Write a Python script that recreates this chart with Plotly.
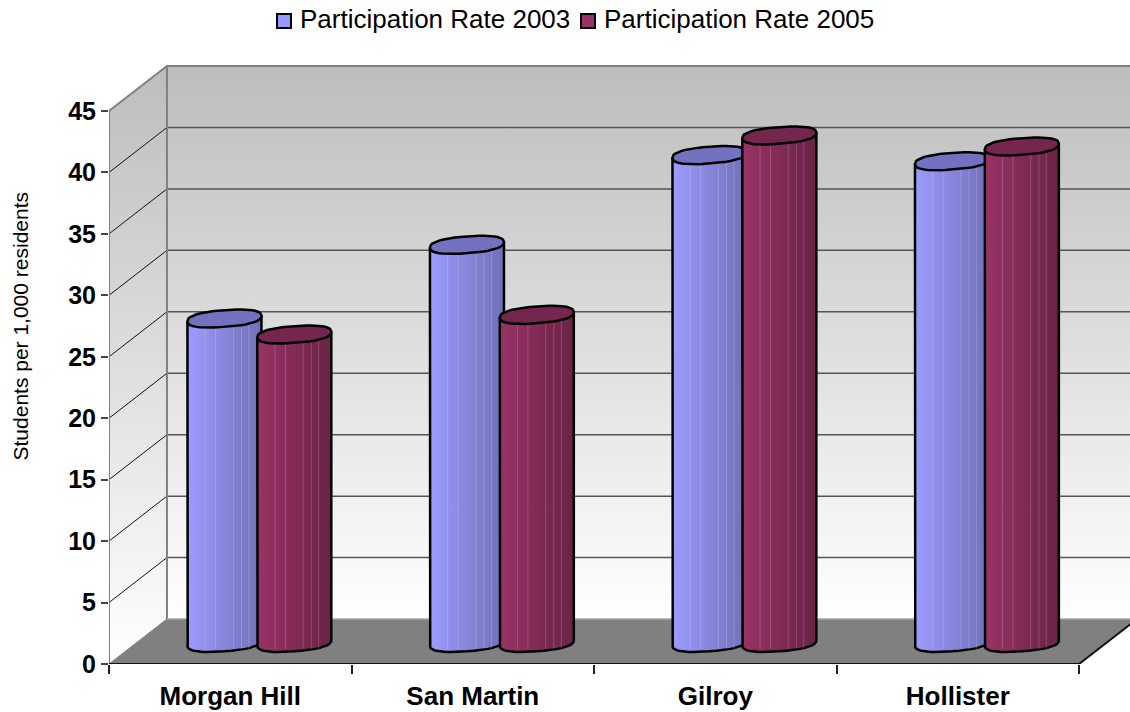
"""
3D-style cylinder chart of participation rates, drawn on plain cartesian axes.
"""

import numpy as np
import plotly.graph_objects as go

categories = ["Morgan Hill", "San Martin", "Gilroy", "Hollister"]
rate_2003 = [26.4, 32.4, 39.7, 39.2]
rate_2005 = [25.1, 26.7, 41.3, 40.4]
y_ticks = [0, 5, 10, 15, 20, 25, 30, 35, 40, 45]

FONT = "Liberation Sans"

# Plot area in pixels, used to place the legend and the axis title
PLOT_L, PLOT_T, PLOT_B = 109, 60, 48
PLOT_W, PLOT_H = 1130 - PLOT_L, 712 - PLOT_T - PLOT_B

# Depth of the box, in axis units
DEPTH_X = 0.239
DEPTH_Y = 3.66
X_MAX = 4.21
Y_MAX = 49.15
Y_TOP = 45

# Cylinder geometry, in axis units
BASE_Y = 1.71
HALF_W = 0.1526
ELL_H = 0.68
ELL_TILT = 0.22
SLOTS = [0.476, 0.764]
SLAT_POS = [-0.52, -0.24, 0.24, 0.46, 0.66]

SERIES = [
    dict(name="Participation Rate 2003", values=rate_2003, legend_x=276,
         left="#9C9CFF", right="#7070B8", top="#7272C0", legend="#9999FF"),
    dict(name="Participation Rate 2005", values=rate_2005, legend_x=580,
         left="#993366", right="#692345", top="#75264F", legend="#993366"),
]


def paper_x(px):
    return (px - PLOT_L) / PLOT_W


def paper_y(py):
    return (PLOT_T + PLOT_H - py) / PLOT_H


def ellipse(cx, cy, t):
    # Slightly squared ellipse, tilted so the right side sits higher
    c, s = np.cos(t), np.sin(t)
    c = np.sign(c) * np.abs(c) ** 0.82
    s = np.sign(s) * np.abs(s) ** 0.82
    return cx + HALF_W * c, cy + ELL_H * s + ELL_TILT * c


fig = go.Figure()


def add_poly(x, y, **kwargs):
    fig.add_trace(go.Scatter(
        x=x, y=y, mode="lines", fill="toself", showlegend=False,
        hoverinfo="skip", cliponaxis=False, **kwargs
    ))


def add_line(x, y, color, width):
    fig.add_trace(go.Scatter(
        x=x, y=y, mode="lines", line=dict(color=color, width=width),
        showlegend=False, hoverinfo="skip", cliponaxis=False
    ))


def wall_gradient(start, stop):
    return dict(type="vertical", start=start, stop=stop,
                colorscale=[[0, "#FFFFFF"], [1, "#BDBDBD"]])


# Back wall
add_poly(
    [DEPTH_X, X_MAX + 1, X_MAX + 1, DEPTH_X, DEPTH_X],
    [DEPTH_Y, DEPTH_Y, Y_TOP + DEPTH_Y, Y_TOP + DEPTH_Y, DEPTH_Y],
    line=dict(width=0),
    fillgradient=wall_gradient(DEPTH_Y, Y_TOP + DEPTH_Y),
)

# Side wall
add_poly(
    [0, DEPTH_X, DEPTH_X, 0, 0],
    [0, DEPTH_Y, Y_TOP + DEPTH_Y, Y_TOP, 0],
    line=dict(width=0),
    fillgradient=wall_gradient(0, Y_TOP + DEPTH_Y),
)

# Floor
add_poly(
    [0, DEPTH_X, 4 + DEPTH_X, 4, 0],
    [0, DEPTH_Y, DEPTH_Y, 0, 0],
    line=dict(width=0),
    fillcolor="#808080",
)

# Gridlines on both walls
for tick in y_ticks[1:-1]:
    add_line([0, DEPTH_X], [tick, tick + DEPTH_Y], "#111111", 1)
    add_line([DEPTH_X, X_MAX + 1], [tick + DEPTH_Y, tick + DEPTH_Y], "#555555", 1.5)

# Box edges
add_line([0, DEPTH_X, X_MAX + 1], [Y_TOP, Y_TOP + DEPTH_Y, Y_TOP + DEPTH_Y], "#808080", 2)
add_line([DEPTH_X, DEPTH_X], [DEPTH_Y, Y_TOP + DEPTH_Y], "#808080", 2)
add_line([0, 0], [0, Y_TOP], "#808080", 2)
add_line([0, DEPTH_X], [0, DEPTH_Y], "#808080", 1)
add_line([DEPTH_X, 4 + DEPTH_X], [DEPTH_Y, DEPTH_Y], "#A6A6A6", 1.5)
add_line([4 + DEPTH_X, 4, 0], [DEPTH_Y, 0, 0], "#111111", 2)

# Cylinders
bottom_t = np.linspace(np.pi, 2 * np.pi, 25)
round_t = np.linspace(0, 2 * np.pi, 49)
for i in range(len(categories)):
    for slot, series in zip(SLOTS, SERIES):
        cx = i + slot
        top_y = BASE_Y + series["values"][i]

        ex, ey = ellipse(cx, BASE_Y, bottom_t)
        _, top_ey = ellipse(cx, top_y, np.array([np.pi, 2 * np.pi]))
        body_x = [cx - HALF_W, *ex, cx + HALF_W, cx - HALF_W]
        body_y = [top_ey[0], *ey, top_ey[1], top_ey[0]]
        add_poly(
            body_x, body_y,
            line=dict(color="#000000", width=2.5),
            fillgradient=dict(
                type="horizontal", start=cx - HALF_W, stop=cx + HALF_W,
                colorscale=[[0, series["left"]], [1, series["right"]]],
            ),
        )

        # Faint facet lines along the body
        for pos in SLAT_POS:
            sx = cx + pos * HALF_W
            add_line([sx, sx], [BASE_Y - 0.5, top_y - 0.3],
                     "rgba(255,255,255,0.18)", 1)

        tx, ty = ellipse(cx, top_y, round_t)
        add_poly(tx, ty, line=dict(color="#000000", width=2.5),
                 fillcolor=series["top"])

# Legend, top centre
for series in SERIES:
    left = series["legend_x"]
    fig.add_shape(
        type="rect", xref="paper", yref="paper", layer="above",
        x0=paper_x(left + 1), x1=paper_x(left + 15),
        y0=paper_y(28), y1=paper_y(14),
        fillcolor=series["legend"], line=dict(color="#000000", width=2),
    )
    fig.add_annotation(
        text=series["name"], xref="paper", yref="paper",
        x=paper_x(left + 22), y=paper_y(19), xanchor="left", yanchor="middle",
        showarrow=False, font=dict(family=FONT, size=26, color="#000000"),
    )

fig.add_annotation(
    text="Students per 1,000 residents", xref="paper", yref="paper",
    x=paper_x(20), y=paper_y(326.5), xanchor="center", yanchor="middle",
    textangle=-90, showarrow=False,
    font=dict(family=FONT, size=21, color="#000000"),
)

fig.update_layout(
    width=1130,
    height=712,
    margin=dict(l=PLOT_L, r=0, t=PLOT_T, b=PLOT_B, autoexpand=False),
    paper_bgcolor="#FFFFFF",
    plot_bgcolor="#FFFFFF",
    showlegend=False,
    xaxis=dict(
        range=[0, X_MAX],
        tickmode="array",
        tickvals=[i + 0.5 for i in range(len(categories))],
        ticktext=[f"<b>{c}</b>" for c in categories],
        ticks="outside",
        ticklen=9,
        tickcolor="rgba(0,0,0,0)",
        tickfont=dict(family=FONT, size=26, color="#000000"),
        showgrid=False,
        zeroline=False,
        showline=False,
        minor=dict(
            tickmode="array",
            tickvals=list(range(len(categories) + 1)),
            ticks="outside",
            ticklen=9,
            tickwidth=1.5,
            tickcolor="#222222",
            showgrid=False,
        ),
    ),
    yaxis=dict(
        range=[0, Y_MAX],
        tickmode="array",
        tickvals=y_ticks,
        ticktext=[f"<b>{t}</b>" for t in y_ticks],
        ticks="outside",
        ticklen=7,
        tickwidth=1.5,
        tickcolor="#444444",
        tickfont=dict(family=FONT, size=25, color="#000000"),
        showgrid=False,
        zeroline=False,
        showline=False,
    ),
)

# Drop the page's default body margin so the figure fills the window
fig.write_html(
    "out.html",
    config=dict(displayModeBar=False),
    post_script="document.body.style.margin='0';document.body.style.overflow='hidden';",
)
